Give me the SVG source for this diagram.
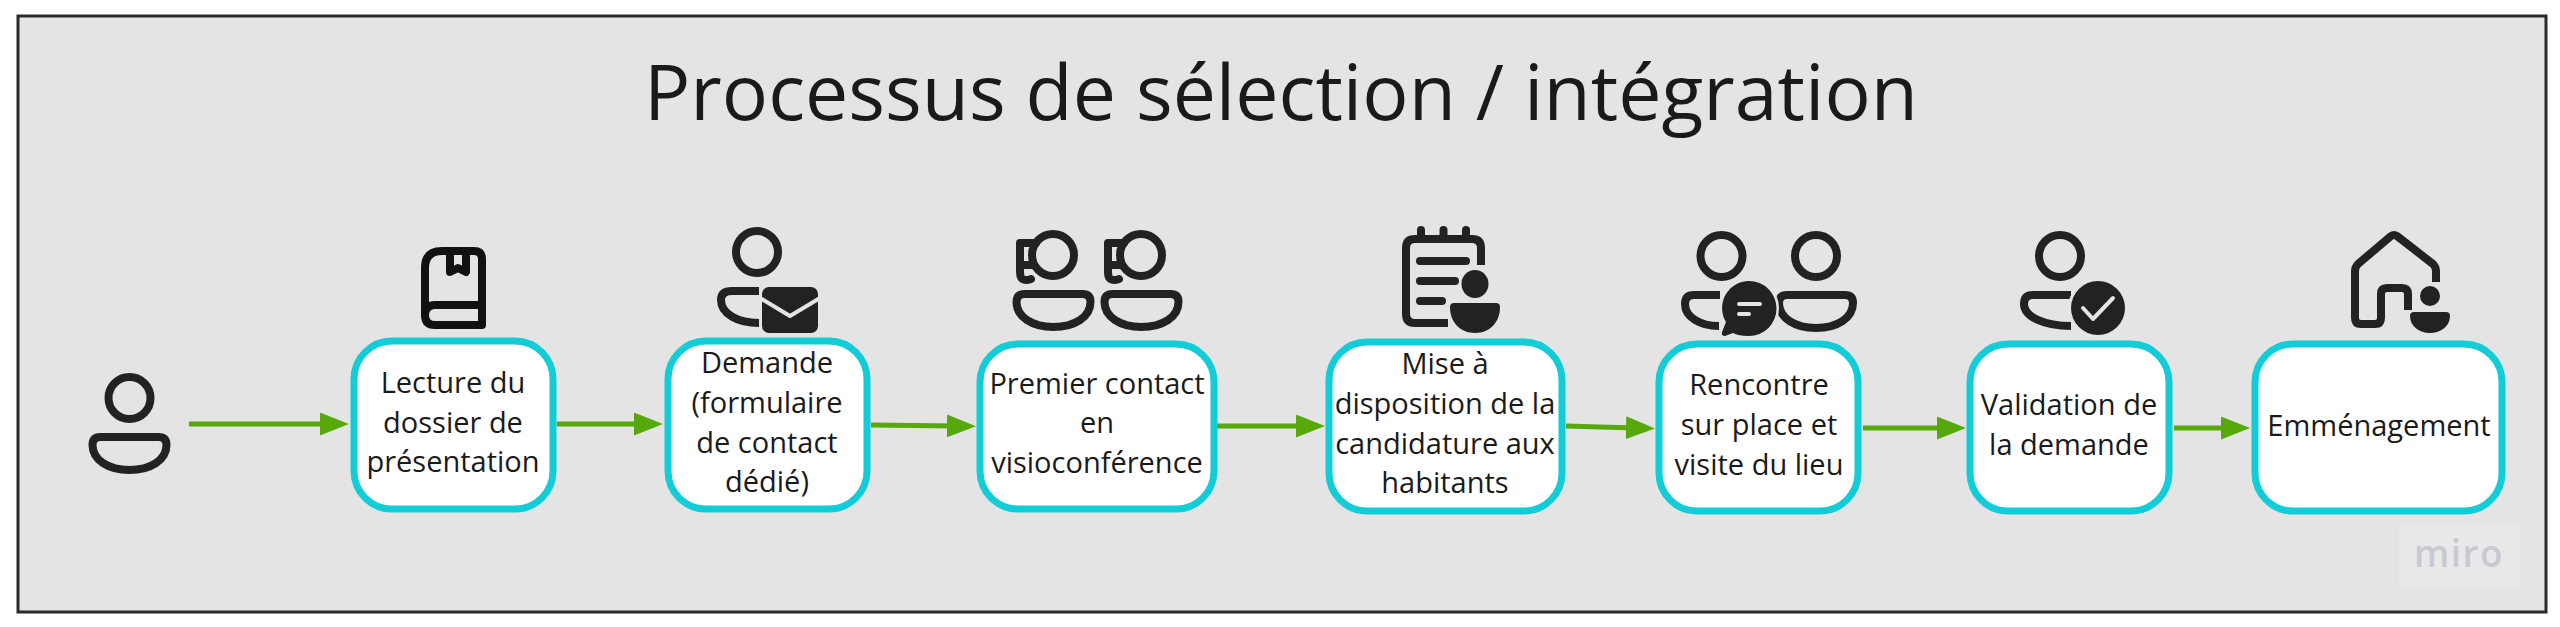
<svg xmlns="http://www.w3.org/2000/svg" width="2560" height="627" viewBox="0 0 2560 627">
<style>
.t{font-family:"Open Sans","Noto Sans",sans-serif;fill:#1a1a1a;text-anchor:middle}
.n{font-size:29px}
.box{fill:#fff;stroke:#12cdd8;stroke-width:7}
.s{fill:none;stroke:#222;stroke-width:8;stroke-linejoin:round;stroke-linecap:round}
.f{fill:#222}
.c{fill:none;stroke:#56a80b;stroke-width:5;marker-end:url(#a)}
.k{fill:none;stroke:#e4e4e4;stroke-width:4;stroke-linecap:round;stroke-linejoin:round}
</style>
<defs>
<marker id="a" markerUnits="userSpaceOnUse" markerWidth="29" markerHeight="23" refX="9" refY="11.5" orient="auto"><path d="M0 0L29 11.5L0 23Z" fill="#56a80b"/></marker>
<path id="b" d="M-29 -16H29Q37 -16 37 -8C37 7 21 17 0 17C-21 17 -37 7 -37 -8Q-37 -16 -29 -16Z"/>
<path id="h" d="M-17 -12H-33V17Q-33 28 -22 24M-33 10H-22"/>
</defs>
<rect x="18" y="16" width="2528" height="596" fill="#e4e4e4" stroke="#2b2b2b" stroke-width="3"/>
<text class="t" x="1281" y="120" font-size="77">Processus de sélection / intégration</text>
<g id="watermark"><rect x="2399" y="523" width="121" height="64" fill="#e8e8e8"/><text x="2459" y="567" font-family="'Open Sans',sans-serif" font-size="37" font-weight="600" letter-spacing="1.500" fill="#c9c9d2" text-anchor="middle">miro</text></g>
<g id="connectors">
<path class="c" d="M189 424H329"/>
<path class="c" d="M557 424H643"/>
<path class="c" d="M871 425L956 426"/>
<path class="c" d="M1217 426H1305"/>
<path class="c" d="M1566 426L1635 428"/>
<path class="c" d="M1863 428H1946"/>
<path class="c" d="M2174 428H2230"/>
</g>
<g id="actor"><circle class="s" cx="129.500" cy="398" r="21"/><use href="#b" class="s" x="129.500" y="453"/></g>
<g id="n1"><rect class="box" x="354" y="341" width="199" height="168" rx="38"/>
<text class="t n" x="453" y="393">Lecture du</text><text class="t n" x="453" y="433">dossier de</text><text class="t n" x="453" y="472">présentation</text>
<g class="s" style="stroke:#111"><path d="M482 325H435Q425 325 425 315V268Q425 251 442 251H474Q482 251 482 259V325Z"/><path d="M425 315Q425 305 435 305H482"/><path d="M450 251V272L458 268L466 272V251"/></g></g>
<g id="n2"><rect class="box" x="668" y="341" width="199" height="168" rx="38"/>
<text class="t n" x="767" y="373">Demande</text><text class="t n" x="767" y="413">(formulaire</text><text class="t n" x="767" y="453">de contact</text><text class="t n" x="767" y="492">dédié)</text>
<circle class="s" cx="757" cy="252" r="21"/><path class="s" style="stroke-linecap:butt" d="M759 291H732Q721 291 721 300C721 314 738 323 759 323"/>
<rect class="f" x="762" y="287" width="56" height="46" rx="7"/><path class="k" style="stroke-linecap:butt" d="M760 298L790 316L820 298"/></g>
<g id="n3"><rect class="box" x="980" y="344" width="234" height="165" rx="38"/>
<text class="t n" x="1097" y="394">Premier contact</text><text class="t n" x="1097" y="433">en</text><text class="t n" x="1097" y="473">visioconférence</text>
<circle class="s" cx="1053" cy="255" r="21"/><use href="#h" class="s" x="1053" y="255"/><use href="#b" class="s" x="1053.500" y="310"/>
<circle class="s" cx="1141" cy="255" r="21"/><use href="#h" class="s" x="1141" y="255"/><use href="#b" class="s" x="1141.500" y="310"/></g>
<g id="n4"><rect class="box" x="1329" y="342" width="233" height="169" rx="38"/>
<text class="t n" x="1445" y="374">Mise à</text><text class="t n" x="1445" y="414">disposition de la</text><text class="t n" x="1445" y="454">candidature aux</text><text class="t n" x="1445" y="493">habitants</text>
<path class="s" style="stroke-linecap:butt" d="M1481 265V248Q1481 239 1472 239H1415Q1406 239 1406 248V314Q1406 323 1415 323H1448"/>
<path class="s" d="M1421 230V236M1443.500 230V236M1466 230V236M1420 261H1466M1420 281H1455M1420 301H1442"/>
<ellipse class="f" cx="1475" cy="284" rx="13.500" ry="14"/><path class="f" d="M1454 303H1496Q1500 303 1500 307C1500 322 1490 333 1475 333C1460 333 1450 322 1450 307Q1450 303 1454 303Z"/></g>
<g id="n5"><rect class="box" x="1659" y="344" width="199" height="167" rx="38"/>
<text class="t n" x="1759" y="395">Rencontre</text><text class="t n" x="1759" y="435">sur place et</text><text class="t n" x="1759" y="475">visite du lieu</text>
<circle class="s" cx="1721.500" cy="256" r="21"/><path class="s" style="stroke-linecap:butt" d="M1720 295H1694Q1685 295 1685 304C1685 317 1700 326 1719 326"/>
<circle class="s" cx="1816" cy="256" r="21"/><use href="#b" class="s" x="1816" y="311"/>
<circle cx="1749" cy="308" r="30" fill="#e4e4e4"/><path class="f" d="M1749 281A27 27 0 1 1 1749 336Q1738 336 1733 333L1725 336Q1721 336 1722 332L1726 322A27 27 0 0 1 1749 281Z"/>
<path class="k" d="M1739 304H1760M1739 314H1749"/></g>
<g id="n6"><rect class="box" x="1970" y="344" width="199" height="167" rx="38"/>
<text class="t n" x="2069" y="415">Validation de</text><text class="t n" x="2069" y="455">la demande</text>
<circle class="s" cx="2060" cy="256" r="21"/><path class="s" style="stroke-linecap:butt" d="M2071 295H2033Q2024 295 2024 304C2024 317 2045 326 2071 326"/>
<circle cx="2098" cy="308" r="30" fill="#e4e4e4"/><circle class="f" cx="2098" cy="308" r="27"/><path class="k" d="M2083 308L2093 319L2113 298"/></g>
<g id="n7"><rect class="box" x="2255" y="344" width="247" height="167" rx="38"/>
<text class="t n" x="2379" y="436">Emménagement</text>
<path class="s" style="stroke-linecap:butt" d="M2436 282V271Q2436 267 2433 264L2397 236Q2394 234 2391 236L2358 264Q2355 267 2355 271V318Q2355 324 2361 324H2375Q2381 324 2381 318V294Q2381 288 2387 288H2402Q2408 288 2408 294V310"/>
<circle cx="2430" cy="296" r="10" class="f"/><path class="f" d="M2414 312H2446Q2450 312 2450 316C2450 326 2441 333 2430 333C2419 333 2410 326 2410 316Q2410 312 2414 312Z"/></g>
</svg>
